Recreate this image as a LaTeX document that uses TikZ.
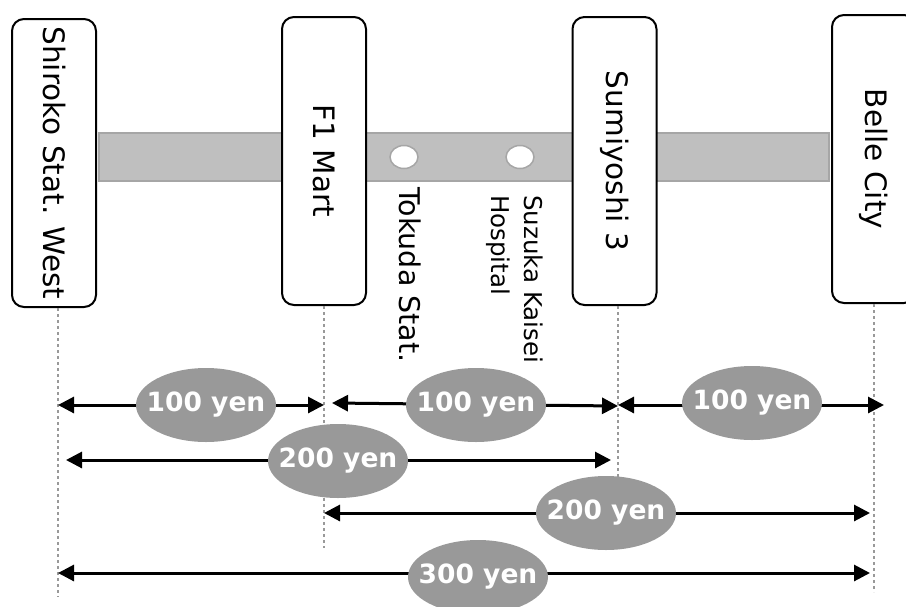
\documentclass[tikz,border=0pt]{standalone}
\usepackage{fontspec}
\setmainfont{DejaVu Sans}
\usetikzlibrary{shapes.geometric,arrows.meta}
\definecolor{barfill}{HTML}{BFBFBF}
\definecolor{barline}{HTML}{A6A6A6}
\definecolor{farefill}{HTML}{999999}
\definecolor{guide}{HTML}{999999}
\begin{document}
\begin{tikzpicture}[x=1pt,y=-1pt,
  stationbox/.style={draw=black, line width=2pt, fill=white, rounded corners=12pt,
    rotate=-90, minimum width=288pt, minimum height=84pt, inner sep=0pt,
    font=\fontsize{29.5}{34}\selectfont},
  linebar/.style={draw=barline, fill=barfill, line width=1.5pt, inner sep=0pt,
    minimum width=730pt, minimum height=48pt},
  stopdot/.style={ellipse, draw=barline, line width=1.5pt, fill=white,
    minimum width=28pt, minimum height=23pt, inner sep=0pt},
  stoplabel/.style={rotate=-90, inner sep=0pt, align=left},
  guideline/.style={draw=guide, line width=2.5pt, dash pattern=on 3pt off 3pt},
  farearrow/.style={draw=black, line width=3pt,
    {Triangle[length=16pt,width=16pt]}-{Triangle[length=16pt,width=16pt]}},
  farelabel/.style={ellipse, fill=farefill, minimum width=140pt, minimum height=74pt,
    inner xsep=-14pt, inner ysep=0pt, text=white, font=\fontsize{26.5}{30}\selectfont\bfseries},
]
\useasboundingbox (0,0) rectangle (906,606);
\clip (0,0) rectangle (906,606);

% line bar and intermediate stops
\node[linebar] (bar) at (464,157) {};
\node[stopdot] (dot1) at (404,157) {};
\node[stopdot] (dot2) at (520,157) {};
\node[stoplabel, anchor=base west, font=\fontsize{28.5}{32}\selectfont] (tokuda) at (399,187) {Tokuda Stat.};
\node[stoplabel, anchor=north west, font=\fontsize{24.5}{33}\selectfont] (suzuka) at (543,195) {Suzuka Kaisei\\Hospital};

% stations
\node[stationbox] (s1) at (54,163) {Shiroko Stat. West};
\node[stationbox] (s2) at (324,161) {F1 Mart};
\node[stationbox] (s3) at (614.5,161) {Sumiyoshi 3};
\node[stationbox] (s4) at (874,159) {Belle City};

% guide lines
\coordinate (g1t) at (58,308);  \coordinate (g1b) at (58,597);
\coordinate (g2t) at (324,306); \coordinate (g2b) at (324,548);
\coordinate (g3t) at (618,306); \coordinate (g3b) at (618,477);
\coordinate (g4t) at (874,304); \coordinate (g4b) at (874,592);
\draw[guideline] (g1t) -- (g1b);
\draw[guideline] (g2t) -- (g2b);
\draw[guideline] (g3t) -- (g3b);
\draw[guideline] (g4t) -- (g4b);

% fare arrows
\coordinate (a1l) at (58,405);  \coordinate (a1r) at (324,405);
\coordinate (a2l) at (332,403); \coordinate (a2r) at (618,406);
\coordinate (a3l) at (618,405); \coordinate (a3r) at (884,405);
\coordinate (a4l) at (66,460);  \coordinate (a4r) at (611,460);
\coordinate (a5l) at (324,513); \coordinate (a5r) at (870,513);
\coordinate (a6l) at (58,573);  \coordinate (a6r) at (870,573);
\draw[farearrow] (a1l) -- (a1r);
\draw[farearrow] (a2l) -- (a2r);
\draw[farearrow] (a3l) -- (a3r);
\draw[farearrow] (a4l) -- (a4r);
\draw[farearrow] (a5l) -- (a5r);
\draw[farearrow] (a6l) -- (a6r);

% fare labels
\node[farelabel] (f1) at (206,405) {100 yen};
\node[farelabel] (f2) at (476,405) {100 yen};
\node[farelabel] (f3) at (752,403) {100 yen};
\node[farelabel] (f4) at (338,461) {200 yen};
\node[farelabel] (f5) at (606,513) {200 yen};
\node[farelabel] (f6) at (478,577) {300 yen};
\end{tikzpicture}
\end{document}
